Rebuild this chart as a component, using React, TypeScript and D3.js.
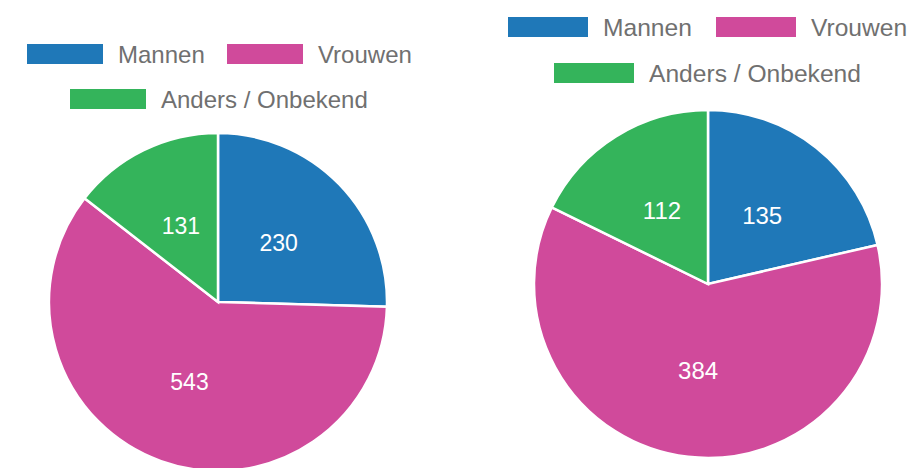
import React from "react";
import * as d3 from "d3";

const categories = ["Mannen", "Vrouwen", "Anders / Onbekend"];
const leftValues = [230, 543, 131];
const rightValues = [135, 384, 112];
const colors = ["#1F78B8", "#D04A9B", "#34B45B"];

type PieSpec = {
  values: number[];
  cx: number;
  cy: number;
  r: number;
  font: number;
  labelFont: number;
  legendRow1: { boxX: number; boxY: number }[];
  legendRow2: { boxX: number; boxY: number };
  boxW: number;
  boxH: number;
  textGap: number;
};

const specs: PieSpec[] = [
  {
    values: leftValues,
    cx: 218,
    cy: 302,
    r: 169,
    font: 24,
    labelFont: 23,
    legendRow1: [
      { boxX: 27, boxY: 44 },
      { boxX: 227, boxY: 44 },
    ],
    legendRow2: { boxX: 70, boxY: 89 },
    boxW: 76,
    boxH: 20,
    textGap: 15,
  },
  {
    values: rightValues,
    cx: 708,
    cy: 284,
    r: 174,
    font: 24.6,
    labelFont: 24,
    legendRow1: [
      { boxX: 508, boxY: 17 },
      { boxX: 716, boxY: 17 },
    ],
    legendRow2: { boxX: 554, boxY: 63 },
    boxW: 80,
    boxH: 20,
    textGap: 15,
  },
];

function Pie({ spec }: { spec: PieSpec }) {
  const pie = d3.pie<number>().sort(null).value((d) => d);
  const arcs = pie(spec.values);
  const arc = d3.arc<d3.PieArcDatum<number>>().innerRadius(0).outerRadius(spec.r);
  const legendPos = [spec.legendRow1[0], spec.legendRow1[1], spec.legendRow2];
  return (
    <g>
      <g transform={`translate(${spec.cx},${spec.cy})`}>
        {arcs.map((a, i) => (
          <path
            key={i}
            d={arc(a) || ""}
            fill={colors[i]}
            stroke="#ffffff"
            strokeWidth={2.5}
          />
        ))}
        {arcs.map((a, i) => {
          const [x, y] = arc.centroid(a);
          return (
            <text
              key={"l" + i}
              x={x}
              y={y}
              textAnchor="middle"
              dominantBaseline="central"
              fill="#ffffff"
              fontFamily="'Liberation Sans', Arial, sans-serif"
              fontSize={spec.labelFont}
            >
              {spec.values[i]}
            </text>
          );
        })}
      </g>
      {categories.map((c, i) => {
        const p = legendPos[i];
        return (
          <g key={"lg" + i}>
            <rect
              x={p.boxX}
              y={p.boxY}
              width={spec.boxW}
              height={spec.boxH}
              fill={colors[i]}
            />
            <text
              x={p.boxX + spec.boxW + spec.textGap}
              y={p.boxY + spec.boxH / 2}
              dominantBaseline="central"
              fill="#707070"
              fontFamily="'Liberation Sans', Arial, sans-serif"
              fontSize={spec.font}
            >
              {c}
            </text>
          </g>
        );
      })}
    </g>
  );
}

export default function App() {
  return (
    <svg
      width={924}
      height={468}
      style={{ position: "absolute", left: 0, top: 0, background: "#ffffff" }}
    >
      <rect x={0} y={0} width={924} height={468} fill="#ffffff" />
      {specs.map((s, i) => (
        <Pie key={i} spec={s} />
      ))}
    </svg>
  );
}
